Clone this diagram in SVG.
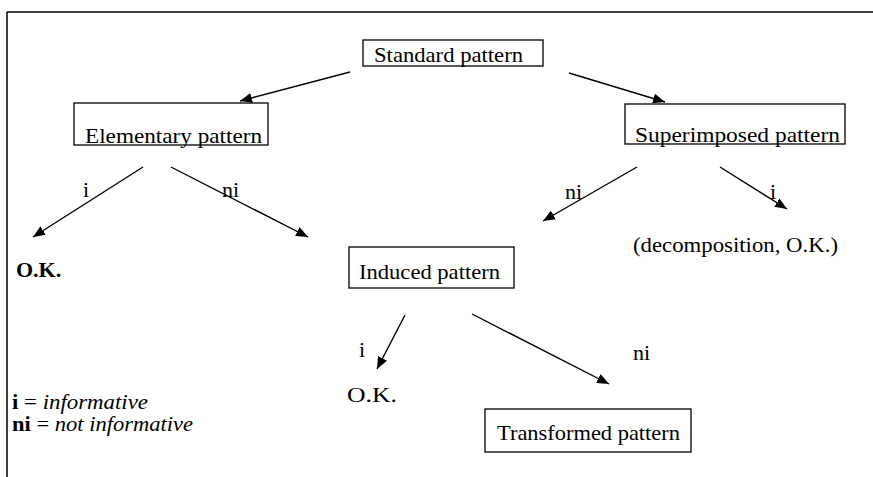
<svg xmlns="http://www.w3.org/2000/svg" width="873" height="477" viewBox="0 0 873 477">
<defs>
<style>
.frame{stroke:#000;stroke-width:1.5;fill:none}
.box{fill:#fff;stroke:#000;stroke-width:1.3}
.lbl{font-size:22px;fill:#000}
.edge{stroke:#000;stroke-width:1.4;fill:none;marker-end:url(#ah)}
.bold{font-weight:bold}
.it{font-style:italic}
.leg{font-size:20px}
</style>
<marker id="ah" viewBox="0 0 12 10" refX="12" refY="5" markerWidth="12" markerHeight="10" markerUnits="userSpaceOnUse" orient="auto">
<path d="M0,0 L12,5 L0,10 Z" fill="#000"/>
</marker>
</defs>
<rect width="873" height="477" fill="#fff"/>
<g id="frame">
<line class="frame" x1="7" y1="12" x2="873" y2="12"/>
<line class="frame" x1="7" y1="12" x2="7" y2="477"/>
</g>
<g font-family="'Liberation Serif', 'DejaVu Serif', serif">
<g id="connectors">
<line class="edge" x1="350" y1="72" x2="240" y2="101"/>
<line class="edge" x1="569" y1="73" x2="665" y2="102"/>
<line class="edge" x1="143" y1="167" x2="33" y2="237"/>
<line class="edge" x1="171" y1="167" x2="308" y2="237"/>
<line class="edge" x1="637" y1="167" x2="543" y2="221"/>
<line class="edge" x1="720" y1="167" x2="787" y2="209"/>
<line class="edge" x1="405" y1="315" x2="377" y2="369"/>
<line class="edge" x1="472" y1="314" x2="609" y2="384"/>
<text class="lbl" x="83" y="197">i</text>
<text class="lbl" x="222" y="197">ni</text>
<text class="lbl" x="565" y="199">ni</text>
<text class="lbl" x="770" y="199">i</text>
<text class="lbl" x="359" y="357">i</text>
<text class="lbl" x="633" y="360">ni</text>
</g>
<g id="standard">
<rect class="box" x="363" y="40" width="180" height="26"/>
<text class="lbl" x="374" y="62" textLength="149" lengthAdjust="spacingAndGlyphs">Standard pattern</text>
</g>
<g id="elementary">
<rect class="box" x="74" y="103" width="194" height="42"/>
<text class="lbl" x="85" y="143" textLength="177" lengthAdjust="spacingAndGlyphs">Elementary pattern</text>
</g>
<g id="superimposed">
<rect class="box" x="625" y="104" width="220" height="40"/>
<text class="lbl" x="635" y="142" textLength="205" lengthAdjust="spacingAndGlyphs">Superimposed pattern</text>
</g>
<g id="ok1">
<text class="lbl bold" x="16" y="277" font-size="20">O.K.</text>
</g>
<g id="induced">
<rect class="box" x="349" y="247" width="165" height="41"/>
<text class="lbl" x="359" y="279" textLength="141" lengthAdjust="spacingAndGlyphs">Induced pattern</text>
</g>
<g id="decomposition">
<text class="lbl" x="633" y="252" textLength="205" lengthAdjust="spacingAndGlyphs">(decomposition, O.K.)</text>
</g>
<g id="ok2">
<text class="lbl" x="347" y="402" textLength="50" lengthAdjust="spacingAndGlyphs">O.K.</text>
</g>
<g id="transformed">
<rect class="box" x="485" y="409" width="206" height="43"/>
<text class="lbl" x="497" y="440" textLength="183" lengthAdjust="spacingAndGlyphs">Transformed pattern</text>
</g>
<g id="legend">
<text class="lbl leg" x="12" y="409" textLength="136" lengthAdjust="spacingAndGlyphs"><tspan class="bold">i</tspan> = <tspan class="it">informative</tspan></text>
<text class="lbl leg" x="12" y="431" textLength="181" lengthAdjust="spacingAndGlyphs"><tspan class="bold">ni</tspan> = <tspan class="it">not informative</tspan></text>
</g>
</g>
</svg>
